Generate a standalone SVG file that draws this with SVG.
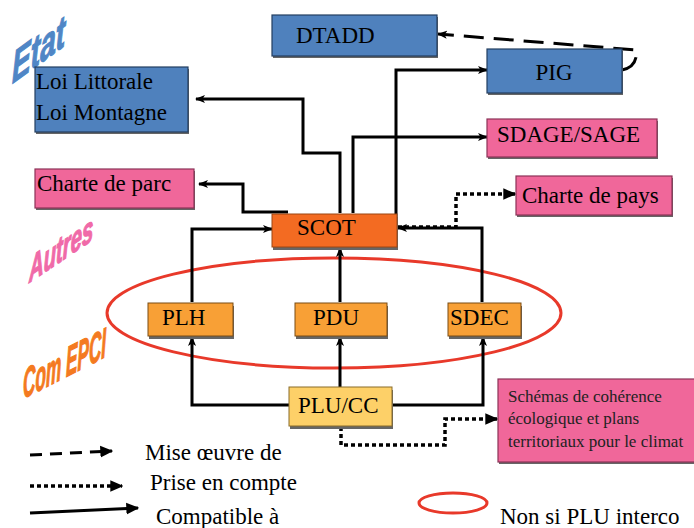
<svg xmlns="http://www.w3.org/2000/svg" width="694" height="528" viewBox="0 0 694 528">
<style>
.t{font-family:"Liberation Serif","Times New Roman",serif;font-size:23px;fill:#000}
.s{font-family:"Liberation Serif","Times New Roman",serif;font-size:17px;fill:#222}
.w{font-family:"Liberation Sans",Arial,sans-serif;font-weight:bold;font-style:italic;stroke-width:1.2}
.sh{fill:#666}
.blue{fill:#4f81bd;stroke:#243f60;stroke-width:1.2}
.pink{fill:#f0679a;stroke:#8c3358;stroke-width:1.2}
.scot{fill:#f36b22;stroke:#9c4612;stroke-width:1}
.or{fill:#f8a036;stroke:#7a4d14;stroke-width:1}
.plu{fill:#fdd068;stroke:#8a6d2a;stroke-width:1}
.c{fill:none;stroke:#000;stroke-width:3}
.dot{stroke-dasharray:4 3;stroke-width:3.5}
.dash{stroke-dasharray:20 10}
.ell{fill:none;stroke:#e8392a;stroke-width:3}
</style>
<defs>
<marker id="a" viewBox="0 0 10 10" markerUnits="userSpaceOnUse" markerWidth="10" markerHeight="10" refX="9" refY="5" orient="auto">
<path d="M0,1 L10,5 L0,9 L2.5,5 z" fill="#000"/>
</marker>
<marker id="b" viewBox="0 0 10 10" markerUnits="userSpaceOnUse" markerWidth="13" markerHeight="13" refX="9" refY="5" orient="auto">
<path d="M0,0.5 L10,5 L0,9.5 z" fill="#000"/>
</marker>
</defs>

<rect width="694" height="528" fill="#fff"/>

<!-- category labels -->
<text class="w" transform="translate(12,84) skewY(-36) scale(0.64,1.02)" font-size="44" fill="#4f86c6" stroke="#4f86c6">Etat</text>
<text class="w" transform="translate(29,283) skewY(-34) scale(0.58,1.05)" font-size="35" fill="#f06aa8" stroke="#f06aa8">Autres</text>
<text class="w" transform="translate(23,399) skewY(-27) scale(0.43,1.05)" font-size="40" fill="#f47a20" stroke="#f47a20">Com EPCI</text>

<!-- big ellipse -->
<ellipse class="ell" cx="334" cy="313" rx="227" ry="55"/>

<g id="connectors">
<path class="c" d="M340,213 V153 H303 V99 H196" marker-end="url(#a)"/>
<path class="c" d="M288,212 H243 V184 H199" marker-end="url(#a)"/>
<path class="c" d="M353,213 V137 H487" marker-end="url(#a)"/>
<path class="c" d="M396,228 V70 H487" marker-end="url(#a)"/>
<path class="c" d="M482,302 V228 H398" marker-end="url(#a)"/>
<path class="c" d="M192,302 V229 H272" marker-end="url(#a)"/>
<path class="c" d="M340,302 V248" marker-end="url(#a)"/>
<path class="c" d="M289,405 H192 V337" marker-end="url(#a)"/>
<path class="c" d="M340,387 V337" marker-end="url(#a)"/>
<path class="c" d="M392,405 H483 V337" marker-end="url(#a)"/>
<path class="c dot" d="M341,427 V445 H445 V419 H497" marker-end="url(#b)"/>
<path class="c dot" d="M398,227 H456 V194 H515" marker-end="url(#b)"/>
<path class="c dash" d="M622,70 C632,68 638,60 636,50 L438,34" marker-end="url(#a)"/>
</g>

<g id="DTADD"><rect class="sh" x="273" y="17" width="165" height="41"/><rect class="blue" x="272" y="15" width="165" height="41"/><text class="t" x="296" y="43">DTADD</text></g>
<g id="PIG"><rect class="sh" x="488" y="51" width="135" height="44"/><rect class="blue" x="487" y="49" width="135" height="44"/><text class="t" x="554" y="80" text-anchor="middle">PIG</text></g>
<g id="Loi"><rect class="sh" x="36" y="69" width="153" height="65"/><rect class="blue" x="35" y="67" width="153" height="65"/><text class="t" x="36" y="89">Loi Littorale</text><text class="t" x="36" y="120">Loi Montagne</text></g>
<g id="SDAGE"><rect class="sh" x="488" y="121" width="170" height="38"/><rect class="pink" x="487" y="119" width="170" height="38"/><text class="t" x="497" y="142">SDAGE/SAGE</text></g>
<g id="CharteParc"><rect class="sh" x="36" y="171" width="159" height="39"/><rect class="pink" x="35" y="169" width="159" height="39"/><text class="t" x="37" y="191">Charte de parc</text></g>
<g id="CharteFays"><rect class="sh" x="517" y="178" width="156" height="39"/><rect class="pink" x="516" y="176" width="156" height="39"/><text class="t" x="522" y="203">Charte de pays</text></g>
<g id="SCOT"><rect class="sh" x="273" y="217" width="125" height="33"/><rect class="scot" x="272" y="214" width="125" height="33"/><text class="t" x="297" y="235">SCOT</text></g>
<g id="PLH"><rect class="sh" x="149" y="306" width="85" height="33"/><rect class="or" x="148" y="303" width="85" height="33"/><text class="t" x="162" y="325">PLH</text></g>
<g id="PDU"><rect class="sh" x="296" y="306" width="92" height="33"/><rect class="or" x="295" y="303" width="92" height="33"/><text class="t" x="313" y="325">PDU</text></g>
<g id="SDEC"><rect class="sh" x="449" y="306" width="73" height="33"/><rect class="or" x="448" y="303" width="73" height="33"/><text class="t" x="450" y="325">SDEC</text></g>
<g id="PLUCC"><rect class="sh" x="290" y="390" width="103" height="39"/><rect class="plu" x="289" y="387" width="103" height="39"/><text class="t" x="298" y="413">PLU/CC</text></g>
<g id="Schemas"><rect class="sh" x="499" y="381" width="200" height="83"/><rect class="pink" x="498" y="379" width="200" height="83"/>
<text class="s" x="508" y="402">Schémas de cohérence</text>
<text class="s" x="508" y="424">écologique et  plans</text>
<text class="s" x="508" y="447">territoriaux pour le climat</text></g>

<g id="legend">
<path class="c dash" style="stroke-dasharray:12 8" d="M30,455 L112,451" marker-end="url(#b)"/>
<path class="c dot" d="M30,486 H122" marker-end="url(#b)"/>
<path class="c" d="M30,513 L138,508" marker-end="url(#b)"/>
<text class="t" x="145" y="460">Mise œuvre de</text>
<text class="t" x="150" y="490">Prise en compte</text>
<text class="t" x="156" y="524">Compatible à</text>
<ellipse class="ell" cx="453" cy="503" rx="34" ry="10"/>
<text class="t" x="500" y="524">Non si PLU interco</text>
</g>
</svg>
